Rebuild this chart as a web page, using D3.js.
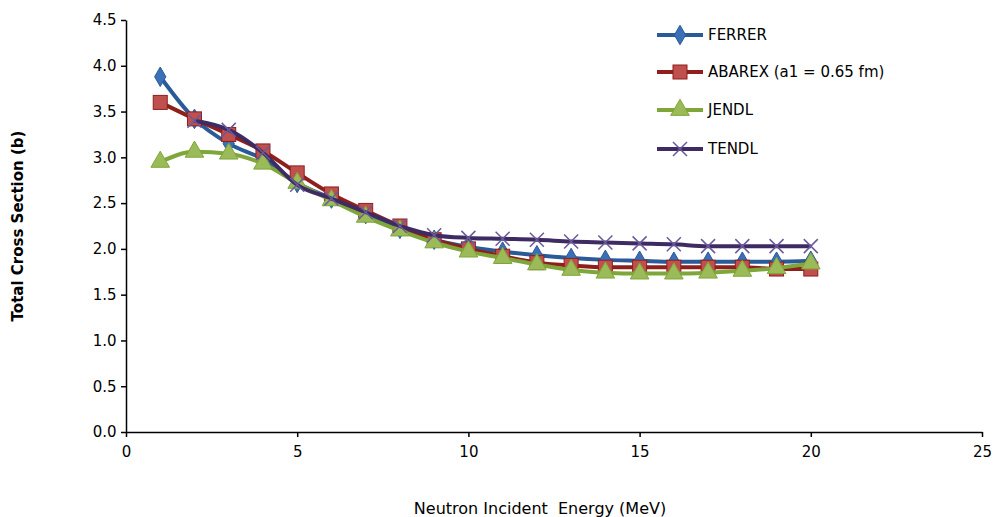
<!DOCTYPE html>
<html><head><meta charset="utf-8">
<script src="https://cdn.jsdelivr.net/npm/d3@7"></script>
<style>body{margin:0;background:#fff;font-family:"DejaVu Sans",Verdana,sans-serif}</style>
</head><body><div id="chart"></div>
<script>
const energy = [1,2,3,4,5,6,7,8,9,10,11,12,13,14,15,16,17,18,19,20];
const ferrer = [3.88,3.42,3.15,2.98,2.72,2.55,2.38,2.22,2.10,2.02,1.97,1.93,1.90,1.88,1.87,1.86,1.86,1.86,1.86,1.87];
const abarex = [3.60,3.42,3.25,3.07,2.83,2.60,2.42,2.25,2.10,2.00,1.92,1.85,1.82,1.80,1.80,1.80,1.80,1.80,1.78,1.78];
const jendl  = [2.95,3.06,3.04,2.93,2.72,2.53,2.35,2.20,2.07,1.97,1.90,1.83,1.77,1.74,1.73,1.73,1.74,1.76,1.79,1.84];
const tendl  = [null,3.40,3.30,3.05,2.70,2.55,2.40,2.25,2.15,2.12,2.11,2.10,2.08,2.07,2.06,2.05,2.03,2.03,2.03,2.03];
const xTicks = [0,5,10,15,20,25];
const yTicks = [0,0.5,1,1.5,2,2.5,3,3.5,4,4.5];

const series = [
  {name:"FERRER", values:ferrer, color:"#2a5a98", fill:"#3a70b8", mark:"diamond"},
  {name:"ABAREX (a1 = 0.65 fm)", values:abarex, color:"#8e1f1b", fill:"#c0504d", mark:"square"},
  {name:"JENDL", values:jendl, color:"#7fa63a", fill:"#9bbb59", mark:"triangle"},
  {name:"TENDL", values:tendl, color:"#3f2b63", fill:"#6a5a9a", mark:"x"}
];

const W = 994, H = 517;
const svg = d3.select("#chart").append("svg").attr("width", W).attr("height", H);
const x = d3.scaleLinear().domain([0,25]).range([126,982]);
const y = d3.scaleLinear().domain([0,4.5]).range([432,20]);

svg.append("g").attr("transform","translate(0,432)")
  .call(d3.axisBottom(x).tickValues(xTicks).tickSize(5).tickSizeOuter(0))
  .call(g => g.selectAll("text").attr("font-size",15).attr("font-family","DejaVu Sans").attr("dy","1.1em"));
svg.append("g").attr("transform","translate(126,0)")
  .call(d3.axisLeft(y).tickValues(yTicks).tickFormat(d3.format(".1f")).tickSize(5).tickSizeOuter(0))
  .call(g => g.selectAll("text").attr("font-size",15).attr("font-family","DejaVu Sans").attr("dx","-0.1em"));
svg.selectAll(".domain, .tick line").attr("stroke","#000").attr("stroke-width",1.5);

svg.append("text").attr("x",540).attr("y",514).attr("text-anchor","middle")
  .attr("font-size",16).text("Neutron Incident  Energy (MeV)").attr("xml:space","preserve");
svg.append("text").attr("transform","translate(23,226) rotate(-90)").attr("text-anchor","middle")
  .attr("font-size",15).attr("font-weight","bold").text("Total Cross Section (b)");

function marker(g, type, s) {
  if (type === "diamond") g.append("path").attr("d", d3.symbol(d3.symbolDiamond, 110)());
  else if (type === "square") g.append("rect").attr("x",-7).attr("y",-7).attr("width",14).attr("height",14);
  else if (type === "triangle") g.append("path").attr("d", d3.symbol(d3.symbolTriangle, 150)());
  else g.append("path").attr("d","M-7,-7L7,7M-7,7L7,-7").attr("fill","none").attr("stroke",s.fill).attr("stroke-width",1.5);
}

const line = d3.line().defined(d => d[1] != null).x(d => x(d[0])).y(d => y(d[1])).curve(d3.curveMonotoneX);
series.forEach(s => {
  const pts = energy.map((e,i) => [e, s.values[i]]);
  svg.append("path").datum(pts).attr("d", line).attr("fill","none")
    .attr("stroke", s.color).attr("stroke-width",4);
  pts.filter(d => d[1] != null).forEach(d => {
    const g = svg.append("g").attr("transform",`translate(${x(d[0])},${y(d[1])})`)
      .attr("fill", s.fill).attr("stroke", s.color).attr("stroke-width",1);
    marker(g, s.mark, s);
  });
});

const legY = [35,72,110,149];
series.forEach((s,i) => {
  const g = svg.append("g").attr("transform",`translate(0,${legY[i]})`);
  g.append("line").attr("x1",657).attr("x2",703).attr("stroke",s.color).attr("stroke-width",4);
  const m = g.append("g").attr("transform","translate(680,0)").attr("fill",s.fill).attr("stroke",s.color);
  marker(m, s.mark, s);
  g.append("text").attr("x",708).attr("y",5).attr("font-size",15).text(s.name);
});
</script></body></html>
